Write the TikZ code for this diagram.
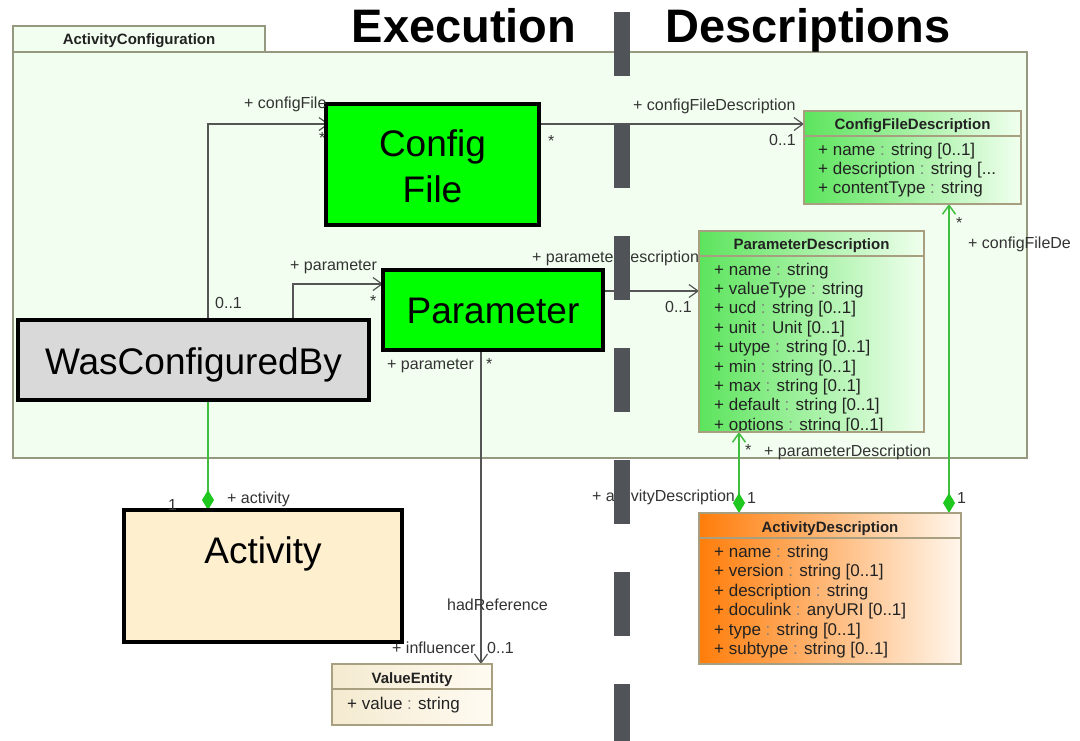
\documentclass[tikz,border=0pt]{standalone}
\usepackage{fontspec}
\setmainfont{Liberation Sans}
\usetikzlibrary{arrows.meta,calc}

\definecolor{pkgfill}{RGB}{242,255,240}
\definecolor{pkgline}{RGB}{150,152,128}
\definecolor{clsline}{RGB}{168,158,128}
\definecolor{lblcol}{RGB}{51,51,51}
\definecolor{txtcol}{RGB}{34,34,34}
\definecolor{linkcol}{RGB}{85,85,85}
\definecolor{compcol}{RGB}{64,190,64}
\definecolor{diacol}{RGB}{30,200,30}
\definecolor{dashcol}{RGB}{80,83,88}
\definecolor{cfgreen}{RGB}{0,255,0}
\definecolor{wcbgray}{RGB}{217,217,217}
\definecolor{actfill}{RGB}{254,239,206}
\definecolor{greenL}{RGB}{92,228,92}
\definecolor{greenM}{RGB}{150,242,150}
\definecolor{greenR}{RGB}{240,255,238}
\definecolor{orangeL}{RGB}{255,125,10}
\definecolor{orangeM}{RGB}{255,178,105}
\definecolor{orangeR}{RGB}{255,246,236}
\definecolor{beigeL}{RGB}{244,234,208}
\definecolor{beigeR}{RGB}{255,251,242}

\newcommand\attrcolon{\textcolor{black!50}{:}}

\pgfdeclarelayer{pkglayer}
\pgfdeclarelayer{links}
\pgfsetlayers{pkglayer,links,main}

\tikzset{
  pkgbox/.style={draw=pkgline, fill=pkgfill, line width=1.2pt, inner sep=0pt, outer sep=0pt, anchor=north west},
  bigbox/.style={draw=black, line width=3.5pt, inner sep=0pt, outer sep=0pt, anchor=north west},
  bigtext/.style={font=\fontsize{37}{44}\selectfont, text=black, inner sep=0pt, anchor=base},
  title/.style={font=\fontsize{47}{56}\selectfont\bfseries, text=black, inner sep=0pt, anchor=base},
  cls/.style={draw=clsline, line width=1.3pt, inner sep=0pt, outer sep=0pt, anchor=north west},
  greencls/.style={cls, left color=greenL, middle color=greenM, right color=greenR},
  orangecls/.style={cls, left color=orangeL, middle color=orangeM, right color=orangeR},
  sepline/.style={draw=clsline, line width=1.3pt},
  hdr/.style={font=\fontsize{15}{18}\selectfont\bfseries, text=txtcol, inner sep=0pt, anchor=base},
  attr/.style={font=\fontsize{17}{19}\selectfont, text=txtcol, inner sep=0pt, anchor=base west},
  lbl/.style={font=\fontsize{16}{19}\selectfont, text=lblcol, inner sep=0pt, anchor=base west},
  lble/.style={lbl, anchor=base east},
  assoc/.style={draw=linkcol, line width=1.2pt,
    -{Straight Barb[length=9pt,width=13pt,line width=1.2pt]}},
  comp/.style={draw=compcol, line width=1.6pt},
  diamondtip/.tip={Diamond[length=20pt,width=12pt,fill=diacol,color=diacol]},
  opengreen/.tip={Straight Barb[length=9pt,width=13pt,line width=1.5pt,color=compcol]},
}

\begin{document}
\begin{tikzpicture}[x=1pt,y=-1pt]
\useasboundingbox (0,0) rectangle (1080,740);

% package ActivityConfiguration
\begin{pgfonlayer}{pkglayer}
  \fill[white] (0,0) rectangle (1080,740);
  \node[pkgbox, minimum width=252pt, minimum height=26pt] (pkgtab) at (13,26) {};
  \node[pkgbox, minimum width=1014pt, minimum height=406pt] (pkg) at (13,52) {};
\end{pgfonlayer}
\node[hdr] (pkgname) at (139,44) {ActivityConfiguration};

% column titles
\node[title] (exec) at (464,42) {Execution};
\node[title] (descr) at (808,42) {Descriptions};

% ConfigFileDescription
\node[greencls, minimum width=217pt, minimum height=93pt] (cfd) at (804,111) {};
\draw[sepline] ($(cfd.north west)+(0,25)$) -- ($(cfd.north east)+(0,25)$);
\node[hdr] (cfdh) at (912.5,129) {ConfigFileDescription};
\foreach \t [count=\i] in {{+ name \attrcolon{} string [0..1]},
    {+ description \attrcolon{} string [.{}.{}.},
    {+ contentType \attrcolon{} string}}
  \node[attr] (cfda\i) at (818,{155+19.4*(\i-1)}) {\t};

% ParameterDescription
\node[greencls, minimum width=225pt, minimum height=201pt] (pd) at (699,231) {};
\node[hdr] (pdh) at (811.5,249) {ParameterDescription};
\begin{scope}
  \clip (699,256) rectangle (924,430.5);
  \foreach \t [count=\i] in {{+ name \attrcolon{} string},
      {+ valueType \attrcolon{} string},
      {+ ucd \attrcolon{} string [0..1]},
      {+ unit \attrcolon{} Unit [0..1]},
      {+ utype \attrcolon{} string [0..1]},
      {+ min \attrcolon{} string [0..1]},
      {+ max \attrcolon{} string [0..1]},
      {+ default \attrcolon{} string [0..1]},
      {+ options \attrcolon{} string [0..1]}}
    \node[attr] (pda\i) at (714,{275+19.4*(\i-1)}) {\t};
\end{scope}
\draw[sepline] ($(pd.north west)+(0,25)$) -- ($(pd.north east)+(0,25)$);
\draw[sepline] (pd.south west) rectangle (pd.north east);

% ActivityDescription
\node[orangecls, minimum width=262pt, minimum height=151pt] (ad) at (699,513) {};
\node[hdr] (adh) at (830,532) {ActivityDescription};
\begin{scope}
  \clip (699,538) rectangle (961,657.5);
  \foreach \t [count=\i] in {{+ name \attrcolon{} string},
      {+ version \attrcolon{} string [0..1]},
      {+ description \attrcolon{} string},
      {+ doculink \attrcolon{} anyURI [0..1]},
      {+ type \attrcolon{} string [0..1]},
      {+ subtype \attrcolon{} string [0..1]}}
    \node[attr] (ada\i) at (714,{557.5+19.4*(\i-1)}) {\t};
\end{scope}
\draw[sepline] ($(ad.north west)+(0,25)$) -- ($(ad.north east)+(0,25)$);

% ValueEntity
\node[cls, left color=beigeL, right color=beigeR, minimum width=160pt, minimum height=61pt] (ve) at (332,664) {};
\draw[sepline] ($(ve.north west)+(0,25)$) -- ($(ve.north east)+(0,25)$);
\node[hdr] (veh) at (412,683) {ValueEntity};
\node[attr] (vea1) at (347,709) {+ value \attrcolon{} string};

% execution-side boxes
\node[bigbox, fill=wcbgray, minimum width=351pt, minimum height=80pt] (wcb) at (18,320) {};
\node[bigbox, fill=actfill, minimum width=278pt, minimum height=132pt] (act) at (124,510) {};
\node[bigbox, fill=cfgreen, minimum width=213pt, minimum height=121pt] (cfg) at (326,104) {};
\node[bigbox, fill=cfgreen, minimum width=220pt, minimum height=80pt] (par) at (383,270) {};

% connectors, kept below the boxes
\coordinate (wcbCF) at ($(wcb.north west)+(190,0)$);
\coordinate (wcbPar) at ($(wcb.north west)+(275,0)$);
\coordinate (cfgR) at ($(cfg.north east)+(0,20)$);
\coordinate (parR) at ($(par.north east)+(0,21)$);
\coordinate (parB) at ($(par.south west)+(98,0)$);
\coordinate (wcbB) at ($(wcb.south west)+(190,0)$);
\coordinate (adL) at ($(ad.north west)+(40,0)$);
\coordinate (adR) at ($(ad.north west)+(250,0)$);

\begin{pgfonlayer}{links}
  \draw[assoc] (wcbCF) |- ($(cfg.north west)+(3,20)$);
  \draw[assoc] (wcbPar) |- ($(par.north west)+(0,14)$);
  \draw[assoc] (cfgR) -- (cfgR -| cfd.west);
  \draw[assoc] (parR) -- (parR -| pd.west);
  \draw[assoc] (parB) -- (parB |- ve.north);
  \draw[comp, -diamondtip] (wcbB) -- (wcbB |- act.north);
  \draw[comp, diamondtip-opengreen] (adL) -- (adL |- pd.south);
  \draw[comp, diamondtip-opengreen] (adR) -- (adR |- cfd.south);
\end{pgfonlayer}

% box texts
\node[bigtext] (cfgt1) at (432.5,156) {Config};
\node[bigtext] (cfgt2) at (432.5,202) {File};
\node[bigtext] (part) at (493,323) {Parameter};
\node[bigtext] (wcbt) at (193.5,374) {WasConfiguredBy};
\node[bigtext] (actt) at (263,563) {Activity};

% role and multiplicity labels
\node[lbl] (l1) at (244,108) {+ configFile};
\node[lbl] (l2) at (319,143) {*};
\node[lbl] (l3) at (548,146) {*};
\node[lbl] (l4) at (633,110) {+ configFileDescription};
\node[lble] (l5) at (796,145) {0..1};
\node[lbl] (l6) at (290,270) {+ parameter};
\node[lbl] (l7) at (370,306) {*};
\node[lbl] (l8) at (215,308) {0..1};
\node[lbl] (l9) at (532,262) {+ parameterDescription};
\node[lble] (l10) at (692,312) {0..1};
\node[lbl] (l11) at (387,369) {+ parameter};
\node[lbl] (l12) at (486,369) {*};
\node[lbl] (l13) at (447,610) {hadReference};
\node[lbl] (l14) at (392,653) {+ influencer};
\node[lbl] (l15) at (487,653) {0..1};
\node[lbl] (l16) at (227,503) {+ activity};
\node[lbl] (l17) at (168,510) {1};
\node[lbl] (l18) at (745,455) {*};
\node[lbl] (l19) at (764,456) {+ parameterDescription};
\node[lbl] (l20) at (592,501) {+ activityDescription};
\node[lbl] (l21) at (747,503) {1};
\node[lbl] (l22) at (957,503) {1};
\node[lbl] (l23) at (956,228) {*};
\node[lbl] (l24) at (968,248) {+ configFileDe};

% separator between execution and description sides
\draw[dashcol, line width=16pt, dash pattern=on 64pt off 48pt] (622,12) -- (622,745);
\end{tikzpicture}
\end{document}
